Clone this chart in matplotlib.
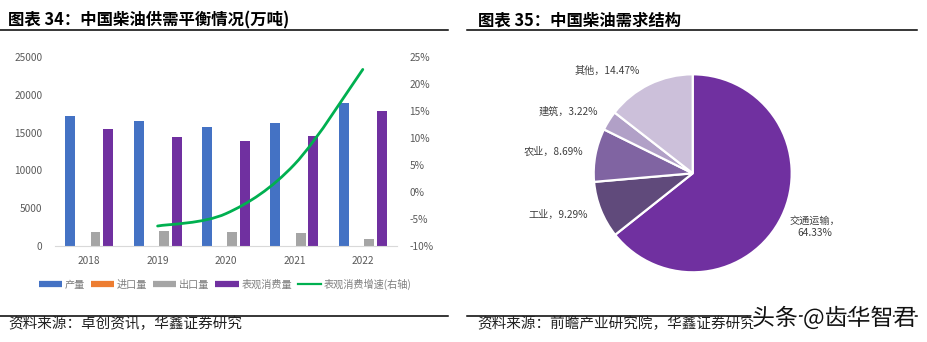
import matplotlib
matplotlib.use("Agg")
import matplotlib.pyplot as plt
import matplotlib.patheffects as pe
from matplotlib.path import Path
from matplotlib.patches import PathPatch
from matplotlib.lines import Line2D
import numpy as np

plt.rcParams['font.family'] = ['Noto Sans CJK SC', 'DejaVu Sans']

# ---- supply / demand balance (10k tonnes) ----
years = ['2018', '2019', '2020', '2021', '2022']
production = [17200, 16550, 15800, 16280, 18950]
imports = [30, 25, 20, 20, 15]
exports = [1810, 2030, 1900, 1680, 970]
consumption = [15440, 14460, 13890, 14600, 17900]
growth_years = [1, 2, 3, 4]
growth_pct = [-6.3, -4.0, 5.1, 22.7]
bar_names = ['产量', '进口量', '出口量', '表观消费量']
line_name = '表观消费增速(右轴)'

# ---- demand structure (%) ----
sectors = ['交通运输', '工业', '农业', '建筑', '其他']
shares = [64.33, 9.29, 8.69, 3.22, 14.47]

W, H = 927, 342
fig = plt.figure(figsize=(W / 100, H / 100), dpi=100)
fig.patch.set_facecolor('white')


def box(x0, y0, x1, y1):
    return [x0 / W, 1 - y1 / H, (x1 - x0) / W, (y1 - y0) / H]


grey = '#595959'
bar_colors = ['#4472C4', '#ED7D31', '#A5A5A5', '#7030A0']
green = '#00B050'

ax = fig.add_axes(box(55, 57, 397, 246))
x = np.arange(len(years))
width = 0.145
step = 0.185
for i, (vals, c) in enumerate(zip([production, imports, exports, consumption], bar_colors)):
    ax.bar(x + (i - 1.5) * step, vals, width, color=c, zorder=2)
ax.set_xlim(-0.5, len(years) - 0.5)
ax.set_ylim(0, 25000)
ax.set_yticks(range(0, 25001, 5000))
ax.set_xticks(x)
ax.set_xticklabels(years)
for s in ['top', 'right', 'left']:
    ax.spines[s].set_visible(False)
ax.spines['bottom'].set_color('#D9D9D9')
ax.tick_params(axis='both', length=0, labelsize=7.3, colors=grey)
ax.tick_params(axis='y', pad=9)
ax.tick_params(axis='x', pad=7)

ax2 = ax.twinx()
ax2.set_ylim(-10, 25)
ax2.set_yticks(range(-10, 26, 5))
ax2.set_yticklabels([f'{v}%' for v in range(-10, 26, 5)])
for s in ax2.spines.values():
    s.set_visible(False)
ax2.tick_params(axis='y', length=0, labelsize=7.3, colors=grey, pad=9)

# smoothed growth curve (Catmull-Rom as cubic Bezier segments)
pts = np.column_stack([growth_years, growth_pct]).astype(float)
ext = np.vstack([pts[0], pts, pts[-1]])
verts = [tuple(pts[0])]
codes = [Path.MOVETO]
for k in range(len(pts) - 1):
    p0, p1, p2, p3 = ext[k], ext[k + 1], ext[k + 2], ext[k + 3]
    c1 = p1 + (p2 - p0) / 6.0
    c2 = p2 - (p3 - p1) / 6.0
    verts += [tuple(c1), tuple(c2), tuple(p2)]
    codes += [Path.CURVE4] * 3
ax2.add_patch(PathPatch(Path(verts, codes), facecolor='none', edgecolor=green,
                        lw=2.0, capstyle='round', zorder=3))

handles = [Line2D([], [], color=c, lw=4.5, solid_capstyle='butt') for c in bar_colors]
handles.append(Line2D([], [], color=green, lw=1.6))
leg = fig.legend(handles, bar_names + [line_name], loc='center',
                 bbox_to_anchor=(225 / W, 1 - 284 / H), ncol=5, frameon=False,
                 fontsize=7.3, labelcolor='#7F7F7F', handlelength=2.3,
                 handletextpad=0.25, columnspacing=0.6)

# ---- pie ----
R = 99
cx, cy = 692.7, 173.3
pax = fig.add_axes(box(cx - R, cy - R, cx + R, cy + R))
pie_colors = ['#7030A0', '#604A7B', '#8064A2', '#B1A0C7', '#CCC0DA']
pax.pie(shares, colors=pie_colors, startangle=90, counterclock=False, radius=1,
        wedgeprops=dict(edgecolor='white', linewidth=1.6))
pax.set_xlim(-1, 1)
pax.set_ylim(-1, 1)
pax.set_aspect('equal')
pax.axis('off')
label_pos = [(1.235, -0.54), (-1.36, -0.42), (-1.41, 0.215), (-1.26, 0.62), (-0.86, 1.04)]
for name, v, (lx, ly) in zip(sectors, shares, label_pos):
    txt = f'{name}，\n{v:.2f}%' if name == '交通运输' else f'{name}，{v:.2f}%'
    pax.text(lx, ly, txt, ha='center', va='center', fontsize=7.3, color='#404040',
             linespacing=1.3, clip_on=False)

# ---- titles, rules, sources ----
fig.text(8 / W, 1 - 20 / H, '图表 34：中国柴油供需平衡情况(万吨)', fontsize=11.8,
         fontweight='bold', va='center', ha='left', color='black')
fig.text(478 / W, 1 - 20 / H, '图表 35：中国柴油需求结构', fontsize=11.8,
         fontweight='bold', va='center', ha='left', color='black')
for (x0, x1) in [(0, 448), (467, 917)]:
    for yy in (30, 316):
        fig.add_artist(Line2D([x0 / W, x1 / W], [1 - yy / H, 1 - yy / H], color='black', lw=1.1))
fig.text(8 / W, 1 - 324 / H, '资料来源：卓创资讯，华鑫证券研究', fontsize=10.5,
         va='center', ha='left', color='#222222')
fig.text(477 / W, 1 - 324 / H, '资料来源：前瞻产业研究院，华鑫证券研究', fontsize=10.5,
         va='center', ha='left', color='#222222')

fig.text(916 / W, 1 - 318 / H, '头条 @齿华智君', fontsize=16.5, va='center', ha='right',
         color='#111111', path_effects=[pe.withStroke(linewidth=3, foreground='white')])

fig.savefig('out.png', dpi=100, facecolor='white')
